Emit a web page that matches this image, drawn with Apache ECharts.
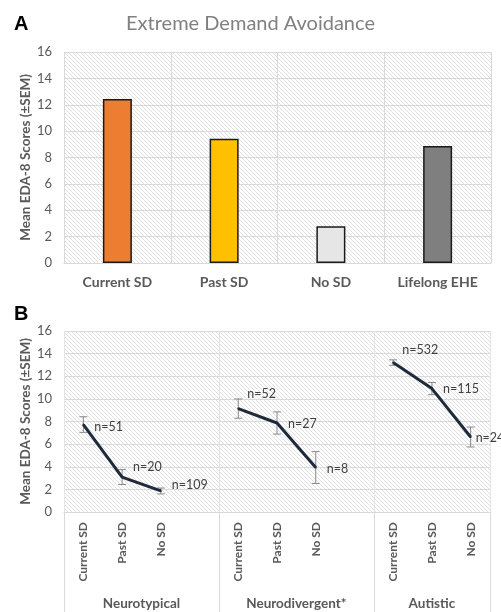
<!DOCTYPE html>
<html><head><meta charset="utf-8">
<script src="https://cdn.jsdelivr.net/npm/echarts@6/dist/echarts.min.js"></script>
<style>html,body{margin:0;padding:0;background:#fff}#c{width:501px;height:612px}</style>
</head><body><div id="c"></div>
<script>
// ---- Panel A data ----
const barCategories = ['Current SD', 'Past SD', 'No SD', 'Lifelong EHE'];
const barValues = [12.43, 9.43, 2.79, 8.87];
const barColors = ['#ED7D31', '#FFC000', '#E7E6E6', '#7F7F7F'];

// ---- Panel B data ----
const lineCategories = ['Current SD', 'Past SD', 'No SD', '', 'Current SD', 'Past SD', 'No SD', '', 'Current SD', 'Past SD', 'No SD'];
const lineMeans = [7.73, 3.09, 1.86, null, 9.14, 7.87, 3.93, null, 13.21, 10.91, 6.63];
const lineSEM = [0.69, 0.66, 0.26, null, 0.85, 0.98, 1.41, null, 0.24, 0.54, 0.88];
const lineN = [51, 20, 109, null, 52, 27, 8, null, 532, 115, 24];
const groupNames = ['Neurotypical', 'Neurodivergent*', 'Autistic'];
const groupSizes = [4, 4, 3];

const yMin = 0, yMax = 16, yStep = 2;
const yTitle = 'Mean EDA-8 Scores (\u00B1SEM)';

// label offsets (style only)
const nLabelOffsets = [[0, 2], [0, -10], [0, -6], null, [-2, -15], [0, 1], [0, 1], null, [-2, -13], [0, 0], [-6, 1]];

const FONT = 'Lato';
const GRID_C = '#D9D9D9';
const TXT_C = '#595959';

// hatch pattern
function hatch() {
  const s = 4;
  const c = document.createElement('canvas');
  c.width = s; c.height = s;
  const g = c.getContext('2d');
  g.fillStyle = '#ffffff'; g.fillRect(0, 0, s, s);
  g.strokeStyle = '#e0e0e0'; g.lineWidth = 1;
  g.beginPath();
  g.moveTo(-1, -1); g.lineTo(s + 1, s + 1);
  g.moveTo(-1, s - 1); g.lineTo(1, s + 1);
  g.moveTo(s - 1, -1); g.lineTo(s + 1, 1);
  g.stroke();
  return { image: c, repeat: 'repeat' };
}
const pat = hatch();

// group geometry in half-category units
const dividers = [0];
const groupCenters = [];
let acc = 0;
groupSizes.forEach(n => { groupCenters.push(acc + n); acc += 2 * n; dividers.push(acc); });
const halfMax = acc;

const chart = echarts.init(document.getElementById('c'));

const yAxisCommon = {
  type: 'value', min: yMin, max: yMax, interval: yStep,
  axisLine: { show: false }, axisTick: { show: false },
  splitLine: { lineStyle: { color: GRID_C, width: 1 } },
  axisLabel: { color: TXT_C, fontSize: 13, fontFamily: FONT, margin: 12 },
  name: yTitle, nameLocation: 'middle', nameGap: 31, nameMoveOverlap: false,
  nameTextStyle: { color: TXT_C, fontSize: 13.5, fontWeight: 'bold', fontFamily: FONT }
};

const lineData = lineMeans.map((v, i) => {
  if (v == null) return '-';
  const o = { value: v };
  if (nLabelOffsets[i]) o.label = { offset: nLabelOffsets[i] };
  return o;
});
const errData = [];
lineMeans.forEach((v, i) => { if (v != null) errData.push([i, v - lineSEM[i], v + lineSEM[i]]); });

chart.setOption({
  animation: false,
  backgroundColor: '#fff',
  title: [
    { text: 'Extreme Demand Avoidance', left: 'center', top: 9,
      textStyle: { color: '#808080', fontSize: 20, fontWeight: 'normal', fontFamily: FONT } },
    { text: 'A', left: 9, top: 9, textStyle: { color: '#000', fontSize: 20, fontWeight: 'bold', fontFamily: 'Liberation Sans' } },
    { text: 'B', left: 9, top: 299, textStyle: { color: '#000', fontSize: 20, fontWeight: 'bold', fontFamily: 'Liberation Sans' } }
  ],
  grid: [
    { left: 64, right: 10, top: 52, height: 211, show: true, backgroundColor: pat, borderWidth: 0 },
    { left: 64, right: 11, top: 331, height: 181, show: true, backgroundColor: pat, borderWidth: 0 }
  ],
  xAxis: [
    { type: 'category', gridIndex: 0, data: barCategories,
      axisLine: { lineStyle: { color: GRID_C } }, axisTick: { show: false },
      splitLine: { show: true, lineStyle: { color: GRID_C } },
      axisLabel: { color: TXT_C, fontSize: 14, fontWeight: 'bold', fontFamily: FONT, margin: 12 } },
    { type: 'category', gridIndex: 1, data: lineCategories, position: 'bottom',
      axisLine: { lineStyle: { color: GRID_C } }, axisTick: { show: false },
      splitLine: { show: false },
      axisLabel: { interval: 0, rotate: 90, color: TXT_C, fontSize: 12, fontWeight: 'bold', fontFamily: FONT, margin: 10 } },
    { type: 'value', gridIndex: 1, min: 0, max: halfMax, interval: 1, position: 'bottom',
      axisLine: { show: false },
      splitLine: { show: true, lineStyle: { color: '#E4E4E4' } },
      axisTick: { show: true, customValues: dividers, length: 110, lineStyle: { color: GRID_C } },
      axisLabel: { customValues: groupCenters, margin: 85, color: TXT_C, fontSize: 13.5, fontWeight: 'bold', fontFamily: FONT,
        formatter: v => { const k = groupCenters.indexOf(v); return k >= 0 ? groupNames[k] : ''; } } }
  ],
  yAxis: [
    Object.assign({ gridIndex: 0 }, yAxisCommon),
    Object.assign({ gridIndex: 1 }, yAxisCommon)
  ],
  series: [
    { type: 'bar', xAxisIndex: 0, yAxisIndex: 0, barWidth: 29,
      data: barValues.map((v, i) => ({ value: v, itemStyle: { color: barColors[i] } })),
      itemStyle: { borderColor: '#1a1a1a', borderWidth: 1.5 } },
    { type: 'custom', xAxisIndex: 1, yAxisIndex: 1, data: errData, z: 2,
      renderItem: (params, api) => {
        const x = api.value(0);
        const lo = api.coord([x, api.value(1)]);
        const hi = api.coord([x, api.value(2)]);
        const w = 4;
        const st = { stroke: '#8a8a8a', lineWidth: 1 };
        return { type: 'group', children: [
          { type: 'line', shape: { x1: hi[0], y1: hi[1], x2: lo[0], y2: lo[1] }, style: st },
          { type: 'line', shape: { x1: hi[0] - w, y1: hi[1], x2: hi[0] + w, y2: hi[1] }, style: st },
          { type: 'line', shape: { x1: lo[0] - w, y1: lo[1], x2: lo[0] + w, y2: lo[1] }, style: st }
        ] };
      } },
    { type: 'line', xAxisIndex: 1, yAxisIndex: 1, data: lineData, z: 3,
      connectNulls: false, symbol: 'circle', symbolSize: 2,
      lineStyle: { color: '#1F2A3D', width: 3 }, itemStyle: { color: '#1F2A3D' },
      label: { show: true, position: 'right', distance: 10, color: '#404040', fontSize: 12.5, fontFamily: FONT,
        formatter: p => 'n=' + lineN[p.dataIndex] } }
  ]
});
</script>
</body></html>
